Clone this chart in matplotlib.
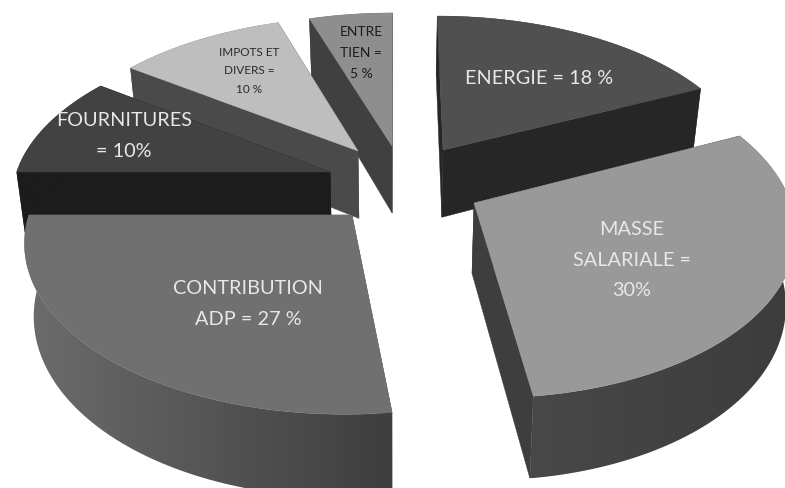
import numpy as np
import matplotlib
matplotlib.use("Agg")
import matplotlib.pyplot as plt
from matplotlib.patches import Polygon

plt.rcParams["font.family"] = ["Lato", "DejaVu Sans"]

# shares of the budget, clockwise from the top
names = ["energie", "masse", "contribution", "fournitures", "impots", "entretien"]
shares = [18, 30, 27, 10, 10, 5]

labels = ["ENERGIE = 18 %", "MASSE\nSALARIALE =\n30%", "CONTRIBUTION\nADP = 27 %",
          "FOURNITURES\n= 10%", "IMPOTS ET\nDIVERS =\n10 %", "ENTRE\nTIEN =\n5 %"]

# where each slice tip sits on screen (pixels)
apex = {"energie": (443, 150), "masse": (474, 203), "contribution": (352, 215),
        "fournitures": (330, 172), "impots": (358, 151), "entretien": (392, 146)}
radius = {"energie": 312, "masse": 310, "contribution": 313,
          "fournitures": 315, "impots": 315, "entretien": 312}

top_col = {"energie": "#505050", "masse": "#999999", "contribution": "#707070",
           "fournitures": "#424242", "impots": "#bebebe", "entretien": "#8e8e8e"}
cut_col = {"energie": "#262626", "masse": "#3e3e3e", "contribution": "#555555",
           "fournitures": "#1c1c1c", "impots": "#4a4a4a", "entretien": "#404040"}
rim_col = {"energie": ("#262626", "#262626"), "masse": ("#484848", "#3c3c3c"),
           "contribution": ("#6c6c6c", "#3e3e3e"), "fournitures": ("#1c1c1c", "#1c1c1c"),
           "impots": ("#4a4a4a", "#4a4a4a"), "entretien": ("#404040", "#404040")}

label_pos = {"energie": (539, 78, 14.3, "#e8e8e8"), "masse": (632, 260, 14.3, "#e8e8e8"),
             "contribution": (248, 304, 14.3, "#e8e8e8"), "fournitures": (124, 136, 14.3, "#e8e8e8"),
             "impots": (249, 71, 8.5, "#2a2a2a"), "entretien": (361, 53, 10, "#1c1c1c")}
label_gap = {"energie": 1.7, "masse": 1.95, "contribution": 1.95, "fournitures": 1.95,
             "impots": 1.85, "entretien": 1.9}

draw_order = ["entretien", "impots", "fournitures", "energie", "contribution", "masse"]

cx, cy = 395, 178
persp = 0.14
squash = 160
depth = 69
bottom_shrink = 0.975


def project(x, y, z=0):
    p = 1 / (1 + persp * y)
    shrink = bottom_shrink if z else 1
    return cx + x * p * shrink, cy - squash * y * p + z * p


def world(sx, sy):
    v = cy - sy
    y = v / (squash - persp * v)
    return (sx - cx) * (1 + persp * y), y


def gradient_fill(ax, pts, c0, c1, zorder):
    pts = np.array(pts)
    patch = Polygon(pts, closed=True, fc="none", ec="none", zorder=zorder)
    ax.add_patch(patch)
    rgb0 = np.array(matplotlib.colors.to_rgb(c0))
    rgb1 = np.array(matplotlib.colors.to_rgb(c1))
    grad = np.linspace(rgb0, rgb1, 256)[None, :, :]
    ext = (pts[:, 0].min(), pts[:, 0].max(), pts[:, 1].max(), pts[:, 1].min())
    im = ax.imshow(grad, extent=ext, aspect="auto", zorder=zorder)
    im.set_clip_path(patch)


fig = plt.figure(figsize=(7.85, 4.88), dpi=100)
ax = fig.add_axes([0, 0, 1, 1])

edges = np.cumsum([0] + shares) / sum(shares) * 2 * np.pi
z = 0
for n in draw_order:
    i = names.index(n)
    t = np.linspace(edges[i], edges[i + 1], 80)
    xa, ya = world(*apex[n])
    x = xa + radius[n] * np.sin(t)
    y = ya + np.cos(t)
    top_arc = list(zip(*project(x, y)))
    low_arc = list(zip(*project(x, y, depth)))
    a_top = project(xa, ya)
    a_low = project(xa, ya, depth)

    for k in (0, -1):
        ax.add_patch(Polygon([a_top, top_arc[k], low_arc[k], a_low], closed=True,
                             fc=cut_col[n], ec=cut_col[n], lw=0.3, zorder=z))
    gradient_fill(ax, top_arc + low_arc[::-1], rim_col[n][0], rim_col[n][1], z + 1)
    ax.add_patch(Polygon([a_top] + top_arc, closed=True, fc=top_col[n],
                         ec=top_col[n], lw=0.3, zorder=z + 2))
    z += 3

for n, lab in zip(names, labels):
    lx, ly, fs, col = label_pos[n]
    ax.text(lx, ly, lab, ha="center", va="center", fontsize=fs, color=col,
            linespacing=label_gap[n], zorder=50)

ax.set_xlim(0, 785)
ax.set_ylim(488, 0)
ax.axis("off")
fig.savefig("out.png", dpi=100, facecolor="w")
